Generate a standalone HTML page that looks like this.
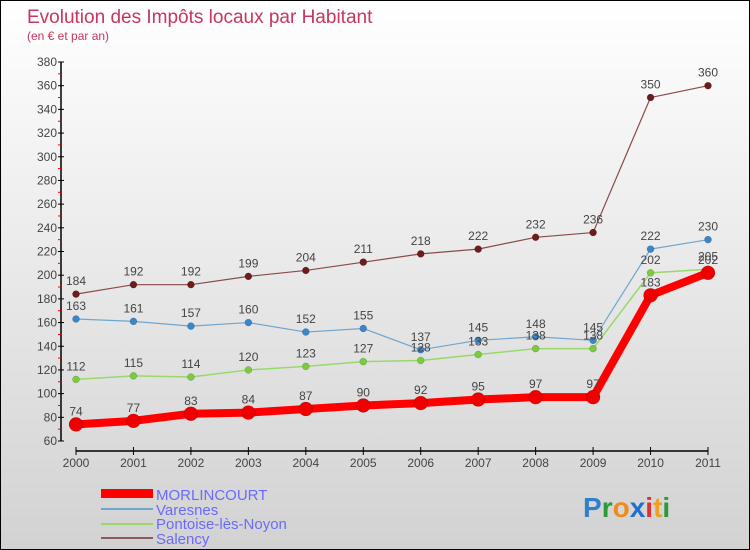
<!DOCTYPE html>
<html><head><meta charset="utf-8"><style>
body{margin:0}
#c{width:748px;height:548px;border:1px solid #000;background:linear-gradient(#fff,#d2d2d2);position:relative;font-family:"Liberation Sans",sans-serif}
svg{position:absolute;left:0;top:0}
</style></head><body>
<div id="c">
<svg id="s" width="748" height="548" xmlns="http://www.w3.org/2000/svg">
<text x="26" y="22" font-size="19" fill="#c8355e">Evolution des Impôts locaux par Habitant</text>
<text x="26" y="39" font-size="12" fill="#c8355e">(en € et par an)</text>
<g id="axes"></g><g id="series"></g>
<g>
<rect x="100" y="488" width="52" height="9" fill="#f00"/>
<text x="155" y="499" font-size="15" fill="#6a6aff">MORLINCOURT</text>
<rect x="100" y="507" width="52" height="2" fill="#6fa6cf"/>
<text x="155" y="514" font-size="15" fill="#6a6aff">Varesnes</text>
<rect x="100" y="522" width="52" height="2" fill="#9ad86a"/>
<text x="155" y="528" font-size="15" fill="#6a6aff">Pontoise-lès-Noyon</text>
<rect x="100" y="536" width="52" height="2" fill="#8b5a5a"/>
<text x="155" y="543" font-size="15" fill="#6a6aff">Salency</text>
</g>
<text x="582" y="516" font-size="28" font-weight="bold"><tspan fill="#2f7fd0">P</tspan><tspan fill="#2a9a3a">r</tspan><tspan fill="#f08a1a">o</tspan><tspan fill="#1f6fd0">x</tspan><tspan fill="#e03030">i</tspan><tspan fill="#f0a020">t</tspan><tspan fill="#2a9a3a">i</tspan></text>
</svg></div>
<script>
const years=["2000","2001","2002","2003","2004","2005","2006","2007","2008","2009","2010","2011"];
const morlincourt=[74,77,83,84,87,90,92,95,97,97,183,202];
const varesnes=[163,161,157,160,152,155,137,145,148,145,222,230];
const pontoise=[112,115,114,120,123,127,128,133,138,138,202,205];
const salency=[184,192,192,199,204,211,218,222,232,236,350,360];
const yTicks=[60,80,100,120,140,160,180,200,220,240,260,280,300,320,340,360,380];
const NS="http://www.w3.org/2000/svg";
const X=i=>75+i*(707-75)/11;
const Y=v=>440-(v-60)*(440-61)/320;
function mk(t,a,p){const e=document.createElementNS(NS,t);for(const k in a)e.setAttribute(k,a[k]);p.appendChild(e);return e;}
const ax=document.getElementById('axes');
let yl=mk('line',{x1:60,y1:Y(380),x2:60,y2:Y(60),stroke:'#000','stroke-width':1.5},ax);


yTicks.forEach((v,i)=>{
 mk('line',{x1:57,y1:Y(v),x2:63,y2:Y(v),stroke:'#000'},ax);
 if(i<yTicks.length-1)mk('line',{x1:57,y1:Y(v+10),x2:60,y2:Y(v+10),stroke:'#e00'},ax);
 const t=mk('text',{x:56,y:Y(v)+4,'font-size':12,fill:'#444','text-anchor':'end'},ax);t.textContent=v;
 
 
});
let xl=mk('line',{x1:X(0),y1:450,x2:X(11),y2:450,stroke:'#000','stroke-width':1.5},ax);


years.forEach((y,i)=>{
 mk('line',{x1:X(i),y1:446,x2:X(i),y2:454,stroke:'#000'},ax);
 const t=mk('text',{x:X(i),y:466,'font-size':12,fill:'#444','text-anchor':'middle'},ax);t.textContent=y;
 
 
});
const sg=document.getElementById('series');
function series(name,data,color,w,r,dot){
 const g=mk('g',{},sg);
 
 
 mk('polyline',{points:data.map((v,i)=>X(i)+','+Y(v)).join(' '),fill:'none',stroke:color,'stroke-width':w,'stroke-linejoin':'round'},g);
 data.forEach((v,i)=>{
  const c=mk('circle',{cx:X(i),cy:Y(v),r:r,fill:dot,stroke:'rgba(0,0,0,0.25)','stroke-width':0.5},g);
  
  
  const t=mk('text',{x:X(i),y:Y(v)-9,'font-size':12,fill:'#444','text-anchor':'middle'},g);t.textContent=v;
  
  
 });
}
series('salency',salency,'#8b4a4a',1.2,3.5,'#6b1c1c');
series('varesnes',varesnes,'#6fa6cf',1.2,3.5,'#3a86c8');
series('pontoise',pontoise,'#9ad86a',1.5,3.5,'#7acb40');
series('morlincourt',morlincourt,'#f00',8,7,'#ee0000');
</script>
</body></html>
